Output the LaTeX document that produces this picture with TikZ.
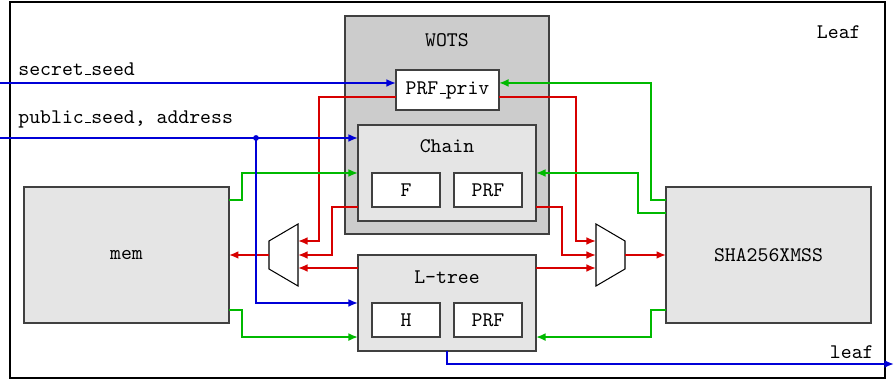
\documentclass[tikz,border=0pt]{standalone}
\usetikzlibrary{arrows.meta,positioning}
\definecolor{wred}{RGB}{215,0,0}
\definecolor{wgreen}{RGB}{0,185,0}
\definecolor{wblue}{RGB}{0,0,215}
\newcommand{\usc}{\leavevmode\kern.06em\vbox{\hrule width.3em}}
\tikzset{
  box/.style={draw=black!75,line width=0.6pt,inner sep=0pt,outer sep=0pt},
  bigbox/.style={box,fill=black!20,minimum width=98.3pt,minimum height=105pt},
  midbox/.style={box,fill=black!10,minimum width=85.7pt,minimum height=46.2pt},
  smallbox/.style={box,fill=white,minimum width=32.8pt,minimum height=16.4pt},
  unitbox/.style={box,fill=black!10,minimum width=98.7pt,minimum height=65.5pt},
  title/.style={inner sep=0pt},
  lbl/.style={inner sep=0pt},
  mux/.style={draw=black,line width=0.5pt,fill=white},
  rline/.style={draw=wred,line width=0.9pt,->},
  gline/.style={draw=wgreen,line width=0.9pt,->},
  bline/.style={draw=wblue,line width=0.9pt,->}
}
\begin{document}
\begin{tikzpicture}[x=0.4817pt,y=-0.4817pt,font=\ttfamily,
  >={Latex[length=4.6pt,width=3.8pt]}]
\useasboundingbox (0,0) rectangle (894,379);
\draw[line width=0.6pt] (10,2) rectangle (885,378);
\node[lbl,anchor=east] (leafttl) at (861,32) {Leaf};

\node[bigbox] (wots) at (447,125) {};
\node[title] (wotsttl) at (447,40) {WOTS};
\node[box,fill=white,minimum width=49.6pt,minimum height=19.3pt] (prfp) at (447.5,90) {PRF\usc priv};

\node[midbox] (chain) at (447,173) {};
\node[title] (chainttl) at (447,146) {Chain};
\node[smallbox] (f) at (406,190) {F};
\node[smallbox] (cprf) at (488,190) {PRF};

\node[midbox] (ltree) at (447,303) {};
\node[title] (ltreettl) at (447,277) {L-tree};
\node[smallbox] (h) at (406,320) {H};
\node[smallbox] (lprf) at (488,320) {PRF};

\node[unitbox] (mem) at (126.5,255) {mem};
\node[unitbox] (sha) at (768.5,255) {SHA256XMSS};

\draw[mux] (269,241) -- (298,224) -- (298,286) -- (269,269) -- cycle;
\coordinate (lmux1) at (298,241);
\coordinate (lmux2) at (298,255);
\coordinate (lmux3) at (298,268);
\coordinate (lmuxo) at (269,255);
\draw[mux] (596,224) -- (625,241) -- (625,269) -- (596,286) -- cycle;
\coordinate (rmux1) at (596,241);
\coordinate (rmux2) at (596,255);
\coordinate (rmux3) at (596,268);
\coordinate (rmuxo) at (625,255);

\draw[rline] ([yshift=-3.4pt]prfp.west) -- ++(-77,0) |- (lmux1);
\draw[rline] ([yshift=-16.4pt]chain.west) -- ++(-26,0) |- (lmux2);
\draw[rline] (lmux3 -| ltree.west) -- (lmux3);
\draw[rline] ([yshift=-3.4pt]prfp.east) -- ++(77,0) |- (rmux1);
\draw[rline] ([yshift=-16.4pt]chain.east) -- ++(26,0) |- (rmux2);
\draw[rline] (rmux3 -| ltree.east) -- (rmux3);
\draw[rline] (lmuxo) -- (mem.east);
\draw[rline] (rmuxo) -- (sha.west);

\draw[gline] ([yshift=26.5pt]sha.west) -- ++(-15,0) |- ([yshift=3.4pt]prfp.east);
\draw[gline] ([yshift=20.2pt]sha.west) -- ++(-28,0) |- (chain.east);
\draw[gline] ([yshift=-26.5pt]sha.west) -- ++(-15,0) |- ([yshift=-16.4pt]ltree.east);
\draw[gline] ([yshift=26.5pt]mem.east) -- ++(13,0) |- (chain.west);
\draw[gline] ([yshift=-26.5pt]mem.east) -- ++(13,0) |- ([yshift=-16.4pt]ltree.west);

\coordinate (ssin) at (0,83);
\coordinate (psin) at (0,138);
\coordinate (jn) at (256,138);
\coordinate (leafout) at (894,364);
\draw[bline] (ssin) -- (ssin -| prfp.west);
\draw[bline] (psin) -- (psin -| chain.west);
\draw[bline] (jn) |- (ltree.west);
\fill[wblue] (jn) circle (1.4pt);
\draw[bline] (ltree.south) |- (leafout);

\node[lbl,anchor=west] (sslbl) at (18,69) {secret\usc seed};
\node[lbl,anchor=west] (pslbl) at (18,119) {public\usc seed, address};
\node[lbl,anchor=east] (leaflbl) at (874,352) {leaf};
\end{tikzpicture}
\end{document}
